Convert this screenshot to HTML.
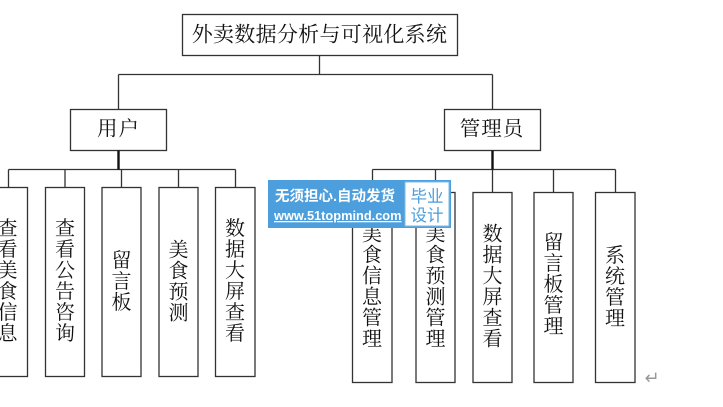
<!DOCTYPE html>
<html><head><meta charset="utf-8"><style>
html,body{margin:0;padding:0;background:#fff;}
svg{display:block;}
.t{font-family:"Liberation Serif","Noto Serif CJK SC",serif;fill:#111;}
</style></head><body>
<svg width="723" height="407" viewBox="0 0 723 407" xmlns="http://www.w3.org/2000/svg">
<g fill="none" stroke="#333" stroke-width="1.3">
<rect x="182.5" y="14.5" width="275" height="41"/>
<rect x="70.5" y="109.5" width="96" height="41"/>
<rect x="444.5" y="109.5" width="96" height="41"/>
<path d="M319.5 55.5V74.5M118.5 74.5H492.5M118.5 74.5V109.5M492.5 74.5V109.5"/>
<path d="M8.5 169.5H235.5M8.5 169.5V187.5M65 169.5V187.5M121.5 169.5V187.5M178.5 169.5V187.5M235.5 169.5V187.5"/>
<rect x="-12" y="187.5" width="39.5" height="189"/>
<rect x="45.5" y="187.5" width="39" height="189"/>
<rect x="102" y="187.5" width="39" height="189"/>
<rect x="159" y="187.5" width="39" height="189"/>
<rect x="215.5" y="187.5" width="39.5" height="189"/>
<path d="M372.5 169.5H615.5M372.5 169.5V192.5M435.5 169.5V192.5M492.5 169.5V192.5M553.5 169.5V192.5M615.5 169.5V192.5"/>
<rect x="352.5" y="192.5" width="39.5" height="190"/>
<rect x="416" y="192.5" width="39" height="190"/>
<rect x="473" y="192.5" width="39" height="190"/>
<rect x="534" y="192.5" width="39" height="190"/>
<rect x="595.5" y="192.5" width="39.5" height="190"/>
</g>
<g stroke="#111" stroke-width="2.4">
<path d="M118.5 150.5V169.5M492.5 150.5V169.5"/>
</g>
<g class="t" font-size="20.5" text-anchor="middle" dominant-baseline="central">
<text x="319.5" y="34.5" letter-spacing="0.3" font-size="21">外卖数据分析与可视化系统</text>
<text x="118.5" y="129.5" letter-spacing="1">用户</text>
<text x="492" y="129.5" letter-spacing="1">管理员</text>
</g>
<g class="t" font-size="20" text-anchor="middle" dominant-baseline="central">
<text x="7.5" y="229">查</text><text x="7.5" y="250">看</text><text x="7.5" y="271">美</text><text x="7.5" y="292">食</text><text x="7.5" y="313">信</text><text x="7.5" y="334">息</text>
<text x="65" y="229">查</text><text x="65" y="250">看</text><text x="65" y="271">公</text><text x="65" y="292">告</text><text x="65" y="313">咨</text><text x="65" y="334">询</text>
<text x="121.5" y="261">留</text><text x="121.5" y="282">言</text><text x="121.5" y="303">板</text>
<text x="178.5" y="250.5">美</text><text x="178.5" y="271.5">食</text><text x="178.5" y="292.5">预</text><text x="178.5" y="313.5">测</text>
<text x="235" y="229">数</text><text x="235" y="250">据</text><text x="235" y="271">大</text><text x="235" y="292">屏</text><text x="235" y="313">查</text><text x="235" y="334">看</text>
<text x="372" y="234.5">美</text><text x="372" y="255.5">食</text><text x="372" y="276.5">信</text><text x="372" y="297.5">息</text><text x="372" y="318.5">管</text><text x="372" y="339.5">理</text>
<text x="435.5" y="234.5">美</text><text x="435.5" y="255.5">食</text><text x="435.5" y="276.5">预</text><text x="435.5" y="297.5">测</text><text x="435.5" y="318.5">管</text><text x="435.5" y="339.5">理</text>
<text x="492.5" y="234.5">数</text><text x="492.5" y="255.5">据</text><text x="492.5" y="276.5">大</text><text x="492.5" y="297.5">屏</text><text x="492.5" y="318.5">查</text><text x="492.5" y="339.5">看</text>
<text x="553.5" y="243">留</text><text x="553.5" y="264">言</text><text x="553.5" y="285">板</text><text x="553.5" y="306">管</text><text x="553.5" y="327">理</text>
<text x="615" y="256">系</text><text x="615" y="277">统</text><text x="615" y="298">管</text><text x="615" y="319">理</text>
</g>
<rect x="268" y="180" width="183" height="48" fill="#4c9fdc"/>
<rect x="405" y="182" width="44" height="44" fill="#ffffff" stroke="#7fbbe6" stroke-width="1"/>
<g font-family="Liberation Sans, Noto Sans CJK SC, sans-serif">
<text x="275" y="201" font-size="14.5" font-weight="bold" fill="#fff">无须担心.自动发货</text>
<text x="274" y="220" font-size="12.8" font-weight="bold" fill="#fff" text-decoration="underline">www.51topmind.com</text>
<text x="427" y="202" font-size="16.5" fill="#4a9ddb" text-anchor="middle">毕业</text>
<text x="427" y="221" font-size="16.5" fill="#4a9ddb" text-anchor="middle">设计</text>
</g>
<text x="652" y="384" font-size="18" fill="#999" text-anchor="middle" font-family="DejaVu Sans, sans-serif">↵</text>
</svg>
</body></html>
